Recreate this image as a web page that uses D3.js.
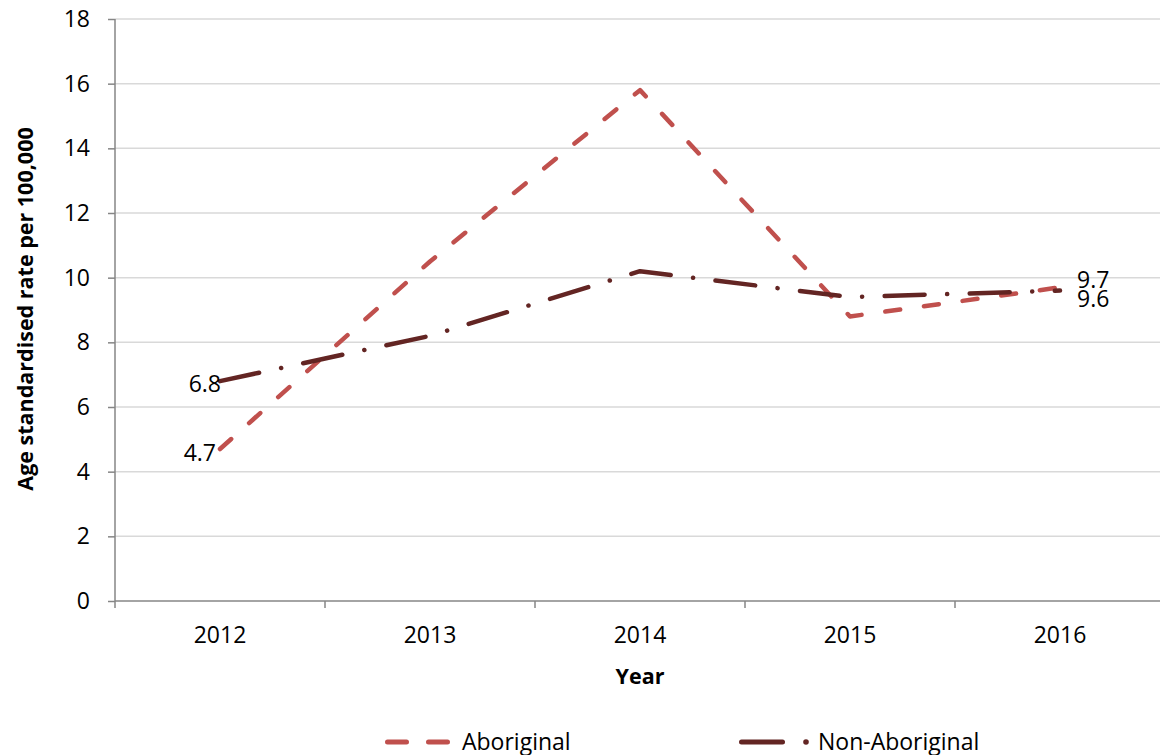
<!DOCTYPE html>
<html><head><meta charset="utf-8">
<script src="https://cdn.jsdelivr.net/npm/d3@7"></script>
<style>
body{margin:0;background:#fff;}
text{font-family:"Open Sans",sans-serif;fill:#000;}
</style></head>
<body><svg id="c" width="1160" height="755"></svg>
<script>
const years = ["2012","2013","2014","2015","2016"];
const aboriginal = [4.7, 10.5, 15.8, 8.8, 9.7];
const nonAboriginal = [6.8, 8.2, 10.2, 9.4, 9.6];
const yTicks = [0,2,4,6,8,10,12,14,16,18];
const seriesNames = ["Aboriginal","Non-Aboriginal"];
const colors = ["#C0504D","#632523"];

const svg = d3.select("#c");
const x = d3.scaleBand().domain(years).range([115,1165]).padding(0);
const y = d3.scaleLinear().domain([0,18]).range([601,19]);
const cx = d => x(d) + x.bandwidth()/2;

// gridlines
svg.append("g").selectAll("line").data(yTicks.filter(t=>t>0)).join("line")
  .attr("x1",115).attr("x2",1160).attr("y1",d=>y(d)).attr("y2",d=>y(d))
  .attr("stroke","#D9D9D9").attr("stroke-width",1.5);

// y axis
const ya = svg.append("g").attr("transform","translate(115,0)")
  .call(d3.axisLeft(y).tickValues(yTicks).tickSize(7).tickPadding(18).tickFormat(d3.format("d")));
ya.select(".domain").attr("stroke","#868686").attr("stroke-width",1.5).attr("d","M0,19V601");
ya.selectAll(".tick line").attr("stroke","#868686").attr("stroke-width",1.5);
ya.selectAll(".tick text").attr("font-size",23).attr("font-family","Open Sans").attr("fill","#000");

// x axis
const xa = svg.append("g").attr("transform","translate(0,601)")
  .call(d3.axisBottom(x).tickSize(0).tickPadding(26));
xa.select(".domain").attr("stroke","#868686").attr("stroke-width",1.5).attr("d","M115,0H1165");
xa.selectAll(".tick text").attr("font-size",23).attr("font-family","Open Sans").attr("fill","#000");
const edges = years.map(d=>x(d)).concat([x.range()[1]]);
xa.append("g").selectAll("line").data(edges).join("line")
  .attr("x1",d=>d).attr("x2",d=>d).attr("y1",0).attr("y2",7)
  .attr("stroke","#868686").attr("stroke-width",1.5);

// axis titles
svg.append("text").attr("x",640).attr("y",684).attr("text-anchor","middle")
  .attr("font-size",21.5).attr("font-weight","bold").text("Year");
svg.append("text").attr("transform","translate(33,309) rotate(-90)").attr("text-anchor","middle")
  .attr("font-size",21.5).attr("font-weight","bold").text("Age standardised rate per 100,000");

// lines
const line = d3.line().x((d,i)=>cx(years[i])).y(d=>y(d));
svg.append("path").datum(aboriginal).attr("d",line).attr("fill","none")
  .attr("stroke",colors[0]).attr("stroke-width",4.5).attr("stroke-linecap","round")
  .attr("stroke-linejoin","round").attr("stroke-dasharray","15,24");
svg.append("path").datum(nonAboriginal).attr("d",line).attr("fill","none")
  .attr("stroke",colors[1]).attr("stroke-width",4.5).attr("stroke-linecap","round")
  .attr("stroke-linejoin","round").attr("stroke-dasharray","40,22.5,0.1,22.5");

// data labels
function lab(val, xi, dx, dy, anchor){
  svg.append("text").attr("x",cx(years[xi])+dx).attr("y",y(val)+dy)
    .attr("text-anchor",anchor).attr("font-size",23).text(d3.format(".1f")(val));
}
lab(nonAboriginal[0],0,1,11,"end");
lab(aboriginal[0],0,-4,12,"end");
lab(aboriginal[4],4,17,1,"start");
lab(nonAboriginal[4],4,17,16,"start");

// legend
const lg = svg.append("g");
lg.append("line").attr("x1",387.5).attr("x2",450).attr("y1",742).attr("y2",742)
  .attr("stroke",colors[0]).attr("stroke-width",5).attr("stroke-linecap","round").attr("stroke-dasharray","19,22");
lg.append("text").attr("x",462).attr("y",750).attr("font-size",23).text(seriesNames[0]);
lg.append("line").attr("x1",741.5).attr("x2",782.5).attr("y1",742).attr("y2",742)
  .attr("stroke",colors[1]).attr("stroke-width",5).attr("stroke-linecap","round");
lg.append("circle").attr("cx",806).attr("cy",742).attr("r",2.8).attr("fill",colors[1]);
lg.append("text").attr("x",818).attr("y",750).attr("font-size",23).text(seriesNames[1]);
</script></body></html>
